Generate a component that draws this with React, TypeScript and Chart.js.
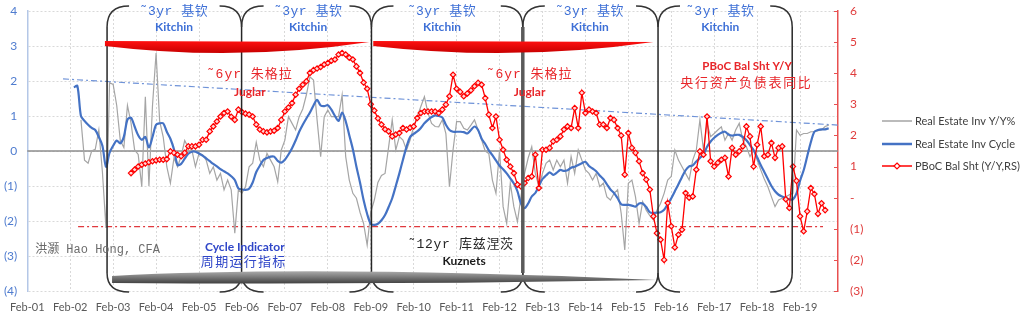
import React, { useEffect, useRef } from 'react';
import { Chart, registerables } from 'chart.js';

Chart.register(...registerables);

// ---- axis ticks (x = months since Feb-2001) ----
const tickMonths = [0, 12, 24, 36, 48, 60, 72, 84, 96, 108, 120, 132, 144, 156, 168, 180, 192, 204, 216];
const tickLabels = ['Feb-01', 'Feb-02', 'Feb-03', 'Feb-04', 'Feb-05', 'Feb-06', 'Feb-07', 'Feb-08', 'Feb-09', 'Feb-10',
  'Feb-11', 'Feb-12', 'Feb-13', 'Feb-14', 'Feb-15', 'Feb-16', 'Feb-17', 'Feb-18', 'Feb-19'];

const seriesLabels = ['Real Estate Inv Y/Y%', 'Real Estate Inv Cycle', 'PBoC Bal Sht (Y/Y,RS)'];

// ---- Real Estate Inv Y/Y% (left axis), monthly from month 15 ----
const grayStartMonth = 15;
const grayValues = [
  0.89, -0.26, -0.35, 0.0, 0.05, 0.6, -0.6, -2.2, 1.95, 1.9, 1.3, 0.3,
  0.1, 1.3, 0.8, 0.03, -0.1, -1.02, 1.55, -1.0, 1.3, 2.8, 0.85, 0.4,
  -0.45, -0.92, -0.2, -0.45, -0.15, 0.3, 0.1, 0.03, -0.45, -0.07, -0.11, -0.26,
  -0.64, -0.45, -0.83, -0.64, -1.11, -0.83, -1.11, -2.35, -1.11, -1.2, -1.02, -0.45,
  -0.35, 0.25, -0.26, -0.45, -0.07, -0.26, -0.45, -0.88, 0.03, 0.31, 0.98, 0.79,
  0.6, 0.98, 1.2, 1.6, 2.12, 2.03, 0.89, -0.16, 0.98, 1.17, 0.98, 0.98,
  0.98, 1.6, -0.16, -0.83, -1.21, -1.35, -1.75, -2.07, -2.69, -1.75, -1.4, -0.9,
  -0.7, -0.64, 0.12, 0.89, 0.03, 0.41, 0.31, 0.03, 0.31, 0.7, 0.98, 1.27,
  1.55, 1.08, 0.79, 0.7, 0.69, 0.89, 0.5, -1.02, 0.03, 0.84, 0.84, 0.65,
  0.6, 0.74, 0.89, 0.6, 0.31, 0.0, -0.07, -0.83, -1.21, 0.03, -1.59, -2.07,
  -0.92, -1.59, -2.02, -1.3, -0.64, -0.2, 0.12, -0.64, -1.02, -0.64, -0.35, -0.26,
  -0.54, -0.26, -0.45, -0.26, -0.92, -0.16, -0.64, 0.03, -0.26, -0.54, -0.64, -0.83,
  -0.64, -1.02, -0.92, -1.31, -1.4, -1.21, -1.11, -1.78, -2.83, -0.92, -0.83, -1.31,
  -2.07, -1.45, -1.69, -1.85, -1.97, -1.69, -1.5, -1.21, -0.83, -0.73, 0.03, -0.26,
  -0.45, -0.64, -0.83, -0.26, 0.03, 0.89, 0.03, 0.79, 0.41, 0.5, 0.6, 0.69,
  0.31, 0.5, 0.31, 0.6, 0.79, 0.3, 0.12, -0.16, 0.03, -0.26, -0.54, -0.8,
  -1.02, -1.31, -1.59, -1.4, -1.35, -1.31, -1.25, -1.21, 0.6, 0.45, 0.5, 0.5,
  0.55, 0.55, 0.58, 0.6, 0.7, 0.74,
];

// ---- Real Estate Inv Cycle (left axis), monthly from month 13 ----
const blueStartMonth = 13;
const blueValues = [
  1.82, 1.86, 1.0, 0.86, 0.75, 0.66, 0.6, 0.4, 0.15, -0.45, -0.05, 0.15,
  0.3, 0.22, 0.41, 0.9, 0.95, 0.7, 0.45, 0.32, 0.4, 0.1, 0.4, 0.75,
  0.79, 0.79, 0.55, 0.35, 0.05, -0.4, -0.37, -0.22, -0.08, -0.02, -0.02, -0.07,
  -0.13, -0.21, -0.29, -0.37, -0.44, -0.52, -0.58, -0.64, -0.72, -0.83, -1.07, -1.1,
  -1.11, -1.08, -0.9, -0.6, -0.42, -0.26, -0.2, -0.16, -0.16, -0.28, -0.33, -0.25,
  -0.1, 0.08, 0.3, 0.55, 0.75, 0.93, 1.1, 1.3, 1.46, 1.3, 1.28, 1.31,
  1.18, 1.0, 0.86, 1.1, 0.85, 0.45, 0.05, -0.45, -0.9, -1.4, -1.8, -2.08,
  -2.11, -2.08, -1.98, -1.83, -1.6, -1.35, -1.0, -0.64, -0.25, 0.12, 0.4, 0.49,
  0.56, 0.66, 0.79, 0.89, 0.97, 1.02, 1.0, 0.96, 0.75, 0.6, 0.55, 0.55,
  0.55, 0.54, 0.5, 0.6, 0.7, 0.6, 0.35, 0.2, 0.02, -0.12, -0.27, -0.42,
  -0.52, -0.64, -0.78, -0.93, -1.15, -1.5, -1.63, -1.5, -1.3, -1.2, -1.0, -0.8,
  -0.7, -0.61, -0.68, -0.62, -0.54, -0.57, -0.55, -0.48, -0.45, -0.4, -0.35, -0.31,
  -0.43, -0.5, -0.58, -0.7, -0.8, -0.95, -1.1, -1.2, -1.35, -1.52, -1.54, -1.54,
  -1.56, -1.59, -1.5, -1.5, -1.6, -1.75, -1.77, -1.76, -1.75, -1.68, -1.52, -1.35,
  -1.15, -0.95, -0.74, -0.55, -0.44, -0.41, -0.3, -0.2, -0.1, 0.12, 0.27, 0.38,
  0.46, 0.52, 0.55, 0.47, 0.44, 0.46, 0.46, 0.4, 0.31, 0.17, 0.03, -0.18,
  -0.4, -0.6, -0.8, -1.0, -1.15, -1.25, -1.3, -1.34, -1.38, -1.38, -1.21, -0.85,
  -0.55, -0.15, 0.25, 0.55, 0.6, 0.62, 0.62, 0.65,
];

// ---- PBoC Bal Sht Y/Y (right axis), monthly from month 29 ----
const redStartMonth = 29;
const redValues = [
  0.79, 0.9, 1.0, 1.06, 1.1, 1.14, 1.17, 1.2, 1.22, 1.22, 1.24, 1.49,
  1.44, 1.38, 1.33, 1.44, 1.65, 1.65, 1.65, 1.7, 1.86, 1.86, 2.13, 2.29,
  2.45, 2.61, 2.72, 2.77, 2.6, 2.5, 2.83, 2.75, 2.7, 2.67, 2.61, 2.35,
  2.19, 2.13, 2.1, 2.13, 2.15, 2.24, 2.5, 2.77, 2.9, 3.04, 3.31, 3.5,
  3.63, 3.74, 4.01, 4.1, 4.15, 4.2, 4.28, 4.33, 4.4, 4.44, 4.6, 4.65,
  4.6, 4.5, 4.44, 4.22, 4.01, 3.7, 3.5, 3.0, 2.8, 2.55, 2.35, 2.2,
  2.13, 1.97, 2.03, 2.08, 2.24, 2.19, 2.25, 2.29, 2.56, 2.72, 2.77, 2.77,
  2.77, 2.77, 2.72, 2.83, 2.99, 3.26, 3.95, 3.5, 3.4, 3.26, 3.35, 3.45,
  3.58, 3.69, 3.63, 3.2, 2.67, 2.24, 2.61, 1.86, 1.54, 1.22, 1.0, 0.79,
  0.42, 0.36, 0.47, 0.63, 0.68, 1.38, 0.31, 1.54, 1.54, 1.6, 1.81, 1.86,
  1.97, 2.19, 2.29, 2.24, 2.88, 2.24, 3.37, 2.72, 2.83, 2.77, 2.72, 2.35,
  2.35, 2.24, 2.56, 2.5, 2.24, 2.0, 0.74, 2.08, 1.6, 1.44, 1.17, 0.79,
  0.58, 0.26, -0.6, -1.14, -1.35, -2.0, -0.17, -0.92, -1.6, -1.19, -1.03, 0.15,
  0.0, 0.04, 0.9, 1.49, 1.38, 2.61, 1.17, 1.0, 1.12, 1.22, 1.28, 0.68,
  1.6, 1.38, 1.49, 1.65, 2.29, 1.97, 1.0, 1.7, 2.29, 1.33, 1.38, 1.76,
  1.28, 1.6, 1.65, -0.05, -0.33, 1.0, 0.54, -0.6, -1.08, -0.44, 0.31, 0.12,
  -0.52, -0.18, -0.4,
];

// ---- reference lines ----
const trendMonths = [10, 226.6];
const trendValues = [2.06, 0.74];
const floorMonths = [14.2, 222.4];
const floorValues = [-0.93, -0.93]; // right axis

// ---- cycle annotations (months) ----
const cycleMonths = [22.3, 59.9, 96.2, 138.5, 176.3, 213.8];
const kitchinMonths = [41.0, 78.5, 115.9, 157.2, 193.7];
const juglarSpans = [[21.7, 95.6], [96.7, 175.0]];
const juglarTextMonths = [62.2, 140.4];
const kuznetsSpan = [23.7, 175.8];

const BLUE = '#4472c4';
const RED = '#ff0000';
const GRAY = '#a5a5a5';

const toPoints = (start: number, vals: number[]) => vals.map((v, i) => ({ x: start + i, y: v }));

const decorPlugin = {
  id: 'decor',
  beforeDatasetsDraw(chart: any) {
    const { ctx, chartArea: a, scales } = chart;
    const y0 = scales.y.getPixelForValue(0);
    ctx.save();
    ctx.strokeStyle = '#8c8c8c';
    ctx.lineWidth = 1.5;
    ctx.beginPath();
    ctx.moveTo(a.left, y0);
    ctx.lineTo(a.right, y0);
    ctx.stroke();
    ctx.restore();
  },
  afterDatasetsDraw(chart: any) {
    const { ctx, chartArea: a, scales } = chart;
    const X = (m: number) => scales.x.getPixelForValue(m);
    const Y = (v: number) => scales.y.getPixelForValue(v);
    ctx.save();

    // brackets
    const yTopCurve = a.top + 16;
    const yTopEnd = a.top - 5;
    const yBotCurve = a.bottom - 18;
    const yBotEnd = a.bottom + 1;
    const r = 22;
    cycleMonths.forEach((m, i) => {
      const x = X(m);
      ctx.strokeStyle = i === 3 ? '#5a5a5a' : '#262626';
      ctx.lineWidth = i === 3 ? 3.5 : 1.5;
      ctx.beginPath();
      ctx.moveTo(x, yTopCurve);
      ctx.lineTo(x, yBotCurve);
      ctx.stroke();
    });
    ctx.strokeStyle = '#333333';
    ctx.lineWidth = 1.5;
    for (let i = 0; i < cycleMonths.length - 1; i++) {
      const xa = X(cycleMonths[i]);
      const xb = X(cycleMonths[i + 1]);
      ctx.beginPath();
      ctx.moveTo(xa, yTopCurve);
      ctx.quadraticCurveTo(xa, yTopEnd, xa + r, yTopEnd);
      ctx.moveTo(xb - r, yTopEnd);
      ctx.quadraticCurveTo(xb, yTopEnd, xb, yTopCurve);
      ctx.moveTo(xa, yBotCurve);
      ctx.quadraticCurveTo(xa, yBotEnd, xa + r, yBotEnd);
      ctx.moveTo(xb - r, yBotEnd);
      ctx.quadraticCurveTo(xb, yBotEnd, xb, yBotCurve);
      ctx.stroke();
    }

    // red Juglar lenses
    juglarSpans.forEach(([m1, m2]) => {
      const x1 = X(m1);
      const x2 = X(m2);
      const yT = a.top + 30;
      const g = ctx.createLinearGradient(0, yT, 0, yT + 12);
      g.addColorStop(0, '#ff1010');
      g.addColorStop(1, '#c80000');
      ctx.fillStyle = g;
      ctx.beginPath();
      ctx.moveTo(x1, yT);
      ctx.lineTo(x2, yT + 1);
      ctx.quadraticCurveTo((x1 + x2) / 2, yT + 21, x1, yT + 5);
      ctx.closePath();
      ctx.fill();
    });

    // gray Kuznets lens
    {
      const x1 = X(kuznetsSpan[0]);
      const x2 = X(kuznetsSpan[1]);
      const w = x2 - x1;
      const g = ctx.createLinearGradient(0, a.bottom - 21, 0, a.bottom - 7);
      g.addColorStop(0, '#b5b5b5');
      g.addColorStop(0.5, '#7a7a7a');
      g.addColorStop(1, '#3c3c3c');
      ctx.fillStyle = g;
      ctx.beginPath();
      ctx.moveTo(x1, a.bottom - 15);
      ctx.quadraticCurveTo(x1 + w * 0.38, a.bottom - 26, x2, a.bottom - 11);
      ctx.quadraticCurveTo(x1 + w * 0.5, a.bottom - 6, x1, a.bottom - 8);
      ctx.closePath();
      ctx.fill();
    }

    // texts
    const txt = (s: string, x: number, y: number, font: string, color: string, spacing = 0, align: CanvasTextAlign = 'center') => {
      ctx.font = font;
      ctx.fillStyle = color;
      ctx.textAlign = align;
      ctx.textBaseline = 'middle';
      (ctx as any).letterSpacing = spacing + 'px';
      ctx.fillText(s, x, y);
      (ctx as any).letterSpacing = '0px';
    };
    const MONO = '"Liberation Mono", "Noto Sans CJK SC", monospace';
    const KBLUE = '#3d6fd6';
    kitchinMonths.forEach((m) => {
      txt('˜3yr 基钦', X(m), Y(3.97), `13px ${MONO}`, KBLUE, 0.5);
      txt('Kitchin', X(m), Y(3.54), 'bold 12px Lato', KBLUE);
    });
    juglarTextMonths.forEach((m) => {
      txt('˜6yr 朱格拉', X(m), Y(2.17), `13px ${MONO}`, '#e8262a', 1);
      txt('Juglar', X(m), Y(1.69), 'bold 12px Lato', '#e8262a');
    });
    txt('PBoC Bal Sht Y/Y', X(201.2), Y(2.43), 'bold 11.5px Lato', '#e8262a');
    txt('央行资产负债表同比', X(201.0), Y(1.94), `13px ${MONO}`, '#e8262a', 1.7);
    txt('洪灏 Hao Hong, CFA', X(2.2), Y(-2.83), `12px ${MONO}`, '#6b6b6b', 0, 'left');
    txt('Cycle Indicator', X(60.8), Y(-2.74), 'bold 12px Lato', '#2f46c8');
    txt('周期运行指标', X(60.5), Y(-3.2), `13px ${MONO}`, '#2f46c8', 1.3);
    txt('˜12yr 库兹涅茨', X(121.2), Y(-2.66), `13px ${MONO}`, '#262626', 0.7);
    txt('Kuznets', X(122.1), Y(-3.14), 'bold 12px Lato', '#1a1a1a');

    ctx.restore();
  },
  afterDraw(chart: any) {
    const { ctx, chartArea: a, scales } = chart;
    ctx.save();
    // right axis inner tick marks
    ctx.strokeStyle = '#e85050';
    ctx.lineWidth = 1;
    scales.y1.ticks.forEach((t: any) => {
      const y = Math.round(scales.y1.getPixelForValue(t.value)) + 0.5;
      ctx.beginPath();
      ctx.moveTo(a.right - 4, y);
      ctx.lineTo(a.right, y);
      ctx.stroke();
    });
    // legend
    const items = [
      { label: seriesLabels[0], color: GRAY, w: 1.5, marker: false, y: a.top + 110 },
      { label: seriesLabels[1], color: BLUE, w: 2.5, marker: false, y: a.top + 133 },
      { label: seriesLabels[2], color: RED, w: 1.5, marker: true, y: a.top + 155 },
    ];
    const lx = a.right + 44;
    items.forEach((it) => {
      ctx.strokeStyle = it.color;
      ctx.lineWidth = it.w;
      ctx.beginPath();
      ctx.moveTo(lx, it.y);
      ctx.lineTo(lx + 30, it.y);
      ctx.stroke();
      if (it.marker) {
        const cx = lx + 15;
        ctx.fillStyle = '#ffffff';
        ctx.lineWidth = 1.2;
        ctx.beginPath();
        ctx.moveTo(cx, it.y - 3);
        ctx.lineTo(cx + 3, it.y);
        ctx.lineTo(cx, it.y + 3);
        ctx.lineTo(cx - 3, it.y);
        ctx.closePath();
        ctx.fill();
        ctx.stroke();
      }
      ctx.fillStyle = '#404040';
      ctx.font = '11px Lato';
      ctx.textAlign = 'left';
      ctx.textBaseline = 'middle';
      ctx.fillText(it.label, lx + 33, it.y);
    });
    ctx.restore();
  },
};

export default function App() {
  const ref = useRef<HTMLCanvasElement>(null);
  useEffect(() => {
    const canvas = ref.current!;
    Chart.defaults.font.family = 'Lato, "Noto Sans", sans-serif';
    const dash = [6, 3, 2, 3];
    const chart = new Chart(canvas, {
      type: 'line',
      data: {
        datasets: [
          {
            label: seriesLabels[2],
            data: toPoints(redStartMonth, redValues),
            yAxisID: 'y1',
            borderColor: RED,
            borderWidth: 1.3,
            pointStyle: 'rectRot',
            pointRadius: 2.7,
            pointBorderWidth: 1.2,
            pointBorderColor: RED,
            pointBackgroundColor: '#ffd6d6',
            order: 0,
          },
          {
            label: seriesLabels[1],
            data: toPoints(blueStartMonth, blueValues),
            yAxisID: 'y',
            borderColor: BLUE,
            borderWidth: 2.2,
            pointRadius: 0,
            tension: 0.3,
            order: 1,
          },
          {
            label: seriesLabels[0],
            data: toPoints(grayStartMonth, grayValues),
            yAxisID: 'y',
            borderColor: GRAY,
            borderWidth: 1.2,
            pointRadius: 0,
            order: 2,
          },
          {
            label: 'trend',
            data: trendMonths.map((m, i) => ({ x: m, y: trendValues[i] })),
            yAxisID: 'y',
            borderColor: '#6f93d8',
            borderWidth: 1.2,
            borderDash: dash,
            pointRadius: 0,
            order: 3,
          },
          {
            label: 'floor',
            data: floorMonths.map((m, i) => ({ x: m, y: floorValues[i] })),
            yAxisID: 'y1',
            borderColor: '#e0393e',
            borderWidth: 1.2,
            borderDash: dash,
            pointRadius: 0,
            order: 3,
          },
        ],
      },
      options: {
        responsive: false,
        animation: false,
        devicePixelRatio: 1,
        layout: { padding: { left: 0, right: 156, top: 11, bottom: 0 } },
        plugins: { legend: { display: false }, tooltip: { enabled: false } },
        scales: {
          x: {
            type: 'linear',
            min: 0,
            max: 226.6,
            afterBuildTicks: (s: any) => {
              s.ticks = tickMonths.map((v) => ({ value: v }));
            },
            afterFit: (s: any) => {
              s.height = 29;
            },
            ticks: {
              callback: (_v: any, i: number) => tickLabels[i],
              color: '#595959',
              font: { size: 11 },
              padding: 10,
              maxRotation: 0,
              autoSkip: false,
            },
            grid: { color: '#d9d9d9', lineWidth: 1, drawTicks: false },
            border: { display: false, dash: [2, 2] },
          },
          y: {
            position: 'left',
            min: -4,
            max: 4,
            afterFit: (s: any) => {
              s.width = 25;
            },
            ticks: {
              stepSize: 1,
              callback: (v: any) => (v < 0 ? `(${-v})` : `${v}`),
              color: '#4f7ccf',
              font: { size: 12 },
              padding: 2,
            },
            grid: { color: '#d9d9d9', lineWidth: 1, drawTicks: true, tickLength: 8, tickColor: 'rgba(0,0,0,0)' },
            border: { display: true, color: '#b4c7e7', width: 1.5, dash: [2, 2] },
          },
          y1: {
            position: 'right',
            min: -3,
            max: 6,
            afterFit: (s: any) => {
              s.width = 30;
            },
            ticks: {
              stepSize: 1,
              callback: (v: any) => (v === 0 ? '-' : v < 0 ? `(${-v})` : `${v}`),
              color: '#e03c3c',
              font: { size: 12 },
              padding: 2,
            },
            grid: { drawOnChartArea: false, drawTicks: true, tickLength: 10, tickColor: 'rgba(0,0,0,0)' },
            border: { display: true, color: '#e85050', width: 1.5 },
          },
        },
      },
      plugins: [decorPlugin],
    } as any);
    return () => chart.destroy();
  }, []);
  return (
    <div style={{ position: 'fixed', left: 0, top: 0, width: 1024, height: 320, background: '#ffffff' }}>
      <canvas ref={ref} width={1024} height={320} style={{ display: 'block', width: 1024, height: 320 }} />
    </div>
  );
}
